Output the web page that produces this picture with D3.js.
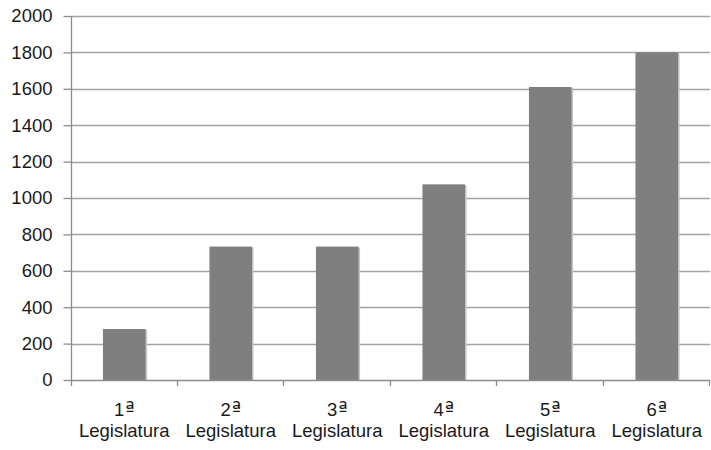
<!DOCTYPE html>
<html>
<head>
<meta charset="utf-8">
<script src="https://cdn.jsdelivr.net/npm/d3@7"></script>
<style>
  html, body { margin: 0; padding: 0; background: #fff; }
  svg { display: block; }
  text { font-family: "Liberation Sans", Arial, sans-serif; fill: #1a1a1a; }
  .ord { font-family: "DejaVu Sans", sans-serif; }
</style>
</head>
<body>
<svg id="chart" width="711" height="450"></svg>
<script>
// Legislatures (number + ordinal mark + word) and the totals per legislature
const numbers = ["1", "2", "3", "4", "5", "6"];
const ordinalMark = "ª";
const categoryWord = "Legislatura";
const values = [280, 733, 733, 1075, 1610, 1800];
const yTicks = [0, 200, 400, 600, 800, 1000, 1200, 1400, 1600, 1800, 2000];

const svg = d3.select("#chart");
const plotLeft = 71, plotRight = 710, plotTop = 16, plotBottom = 380;
const fontSize = "18.5px";

const x = d3.scaleBand()
  .domain(numbers)
  .range([plotLeft, plotRight])
  .paddingInner(0.6)
  .paddingOuter(0.3);

const y = d3.scaleLinear()
  .domain([0, 2000])
  .range([plotBottom, plotTop]);

// horizontal gridlines
svg.append("g")
  .selectAll("line")
  .data(yTicks.filter(d => d > 0))
  .join("line")
  .attr("x1", plotLeft).attr("x2", plotRight)
  .attr("y1", d => Math.round(y(d)) + 0.5)
  .attr("y2", d => Math.round(y(d)) + 0.5)
  .attr("stroke", "#a3a3a3")
  .attr("stroke-width", 1.4);

// bars with a faint right-hand shadow
const bars = svg.append("g");
bars.selectAll("rect.shadow")
  .data(values)
  .join("rect")
  .attr("class", "shadow")
  .attr("x", (d, i) => x(numbers[i]) + 1.5)
  .attr("y", d => y(d) + 1)
  .attr("width", x.bandwidth())
  .attr("height", d => plotBottom - y(d) - 1)
  .attr("fill", "#c4c4c4");
bars.selectAll("rect.bar")
  .data(values)
  .join("rect")
  .attr("class", "bar")
  .attr("x", (d, i) => x(numbers[i]))
  .attr("y", d => y(d))
  .attr("width", x.bandwidth())
  .attr("height", d => plotBottom - y(d))
  .attr("fill", "#7f7f7f");

// y axis
const yAxis = svg.append("g")
  .attr("transform", `translate(${plotLeft + 0.5},0)`)
  .call(d3.axisLeft(y).tickValues(yTicks).tickSize(8).tickPadding(11).tickFormat(d3.format("d")));
yAxis.select(".domain").attr("stroke", "#8c8c8c").attr("stroke-width", 1.3)
  .attr("d", `M0,${plotTop}V${plotBottom + 6}`);
yAxis.selectAll(".tick line").attr("stroke", "#8c8c8c").attr("stroke-width", 1.3);
yAxis.selectAll(".tick text")
  .style("font-size", fontSize)
  .attr("fill", "#1a1a1a");

// x axis line and tick marks at category boundaries
const xg = svg.append("g");
xg.append("line")
  .attr("x1", plotLeft).attr("x2", plotRight)
  .attr("y1", plotBottom + 0.5).attr("y2", plotBottom + 0.5)
  .attr("stroke", "#8c8c8c").attr("stroke-width", 1.3);
const step = x.step();
const boundaries = numbers.map(d => x(d) - x.paddingOuter() * step + step).slice(0, -1);
xg.selectAll("line.tick")
  .data(boundaries.concat([plotRight]))
  .join("line")
  .attr("class", "tick")
  .attr("x1", d => Math.round(d) - 0.5).attr("x2", d => Math.round(d) - 0.5)
  .attr("y1", plotBottom).attr("y2", plotBottom + 6)
  .attr("stroke", "#8c8c8c").attr("stroke-width", 1.3);

// category labels: ordinal on the first line, the word on the second
const cx = d => x(d) + x.bandwidth() / 2;
const ordLabels = xg.selectAll("text.ordinal")
  .data(numbers)
  .join("text")
  .attr("class", "ordinal")
  .attr("text-anchor", "middle")
  .attr("x", cx)
  .attr("y", 416)
  .style("font-size", fontSize);
ordLabels.append("tspan").text(d => d);
ordLabels.append("tspan").attr("class", "ord").attr("dx", 1).style("font-size", "20px").text(ordinalMark);

xg.selectAll("text.word")
  .data(numbers)
  .join("text")
  .attr("class", "word")
  .attr("text-anchor", "middle")
  .attr("x", cx)
  .attr("y", 437)
  .style("font-size", fontSize)
  .text(categoryWord);
</script>
</body>
</html>
